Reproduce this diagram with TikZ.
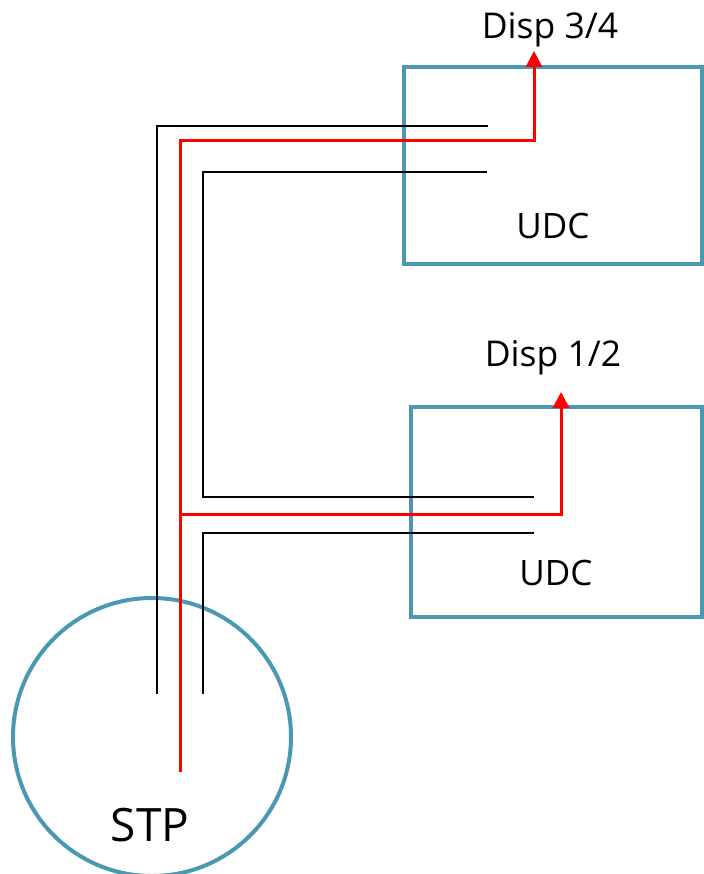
\documentclass[tikz,border=0pt]{standalone}
\usepackage{fontspec}
\setmainfont{Open Sans}
\usetikzlibrary{arrows.meta}
\definecolor{teal1}{RGB}{74,152,178}
\tikzset{
  unit/.style={draw=teal1, line width=4pt, minimum width=#1, inner sep=0pt},
  wireb/.style={draw=black, line width=2.8pt},
  wirer/.style={draw=red, line width=3pt, line join=miter},
  lbl/.style={font=\fontsize{35}{40}\selectfont, inner sep=0pt},
  dlbl/.style={font=\fontsize{35.5}{40}\selectfont, inner sep=0pt},
  redtip/.style={-{Triangle[length=16pt,width=16pt]}}
}
\begin{document}
\begin{tikzpicture}[x=1pt,y=-1pt]
\useasboundingbox (0,0) rectangle (703,874);
% units
\node[unit=298pt, minimum height=197pt] (udc2) at (553,165.5) {};
\node[unit=291pt, minimum height=210pt] (udc1) at (556.5,512) {};
\node[draw=teal1, line width=4pt, circle, minimum size=278pt, inner sep=0pt] (stp) at (152,737) {};
% labels
\node[dlbl] (t2) at (550,30) {Disp 3/4};
\node[dlbl] (t1) at (553,358) {Disp 1/2};
\node[lbl] (u2) at (553,226) {UDC};
\node[lbl] (u1) at (556,573) {UDC};
\node[lbl, font=\fontsize{46}{52}\selectfont] (s) at (150,825) {STP};
% wire ends
\coordinate (ob) at (157,694);
\coordinate (ib) at (203,694);
\coordinate (rb) at (180,772);
\coordinate (ot) at (488,126);
\coordinate (it) at (487,172);
\coordinate (rt) at (534,51);
\coordinate (im) at (534,497);
\coordinate (lm) at (534,533);
\coordinate (rm) at (561,392);
% wires
\draw[wireb] (ob) -- (ob |- ot) -- (ot);
\draw[wireb] (im) -- (im -| ib) -- (ib |- it) -- (it);
\draw[wireb] (ib) -- (ib |- lm) -- (lm);
\draw[wirer, redtip] (rb) -- (180,141) -- (534,141) -- (rt);
\draw[wirer, redtip] (180,514) -- (561,514) -- (rm);
\end{tikzpicture}
\end{document}
